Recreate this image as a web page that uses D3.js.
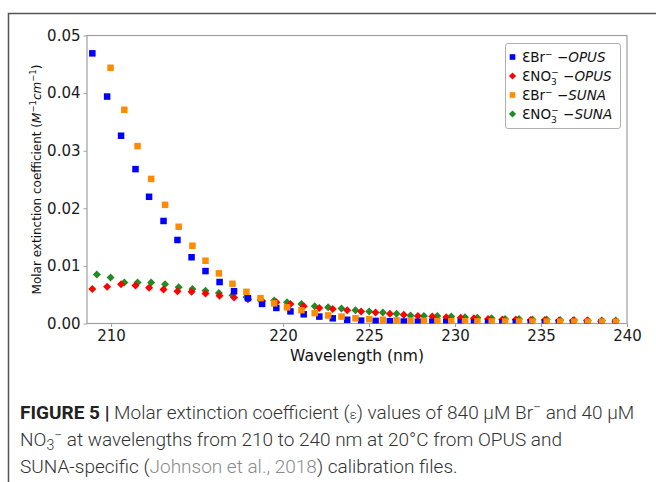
<!DOCTYPE html>
<html><head><meta charset="utf-8">
<script src="https://cdn.jsdelivr.net/npm/d3@7"></script>
<style>body{margin:0;background:#fff}svg{display:block}</style>
</head><body><svg id="c" width="656" height="482"></svg>
<script>
// ---- data ----
const opusWavelength = [208.91,209.77,210.58,211.42,212.21,213.05,213.86,214.68,215.49,216.31,
  217.15,217.96,218.78,219.61,220.43,221.20,222.11,222.89,223.73,224.54,
  225.38,226.21,227.02,227.84,228.68,229.49,230.33,231.10,231.92,232.75,
  233.53,234.40,235.22,236.04,236.86,237.68,238.50,239.32];
const sunaWavelength = [209.17,209.97,210.77,211.54,212.33,213.14,213.93,214.73,215.49,216.27,
  217.06,217.87,218.69,219.48,220.23,221.07,221.84,222.62,223.40,224.21,
  225.01,225.80,226.60,227.41,228.19,228.97,229.78,230.58,231.30,232.13,
  232.91,233.72,234.50,235.33,236.11,236.92,237.72,238.54,239.35];
const brOpus = [0.0469,0.0394,0.0326,0.0268,0.0220,0.0178,0.0145,0.0115,0.0091,0.0072,
  0.0056,0.0044,0.0034,0.0027,0.0021,0.0016,0.0012,0.0009,0.00065,0.0005,
  0.00045,0.0004,0.00035,0.0003,0.0003,0.00025,0.00025,0.00022,0.0002,0.0002,
  0.0002,0.00019,0.00019,0.00018,0.00018,0.00018,0.00017,0.00017];
const no3Opus = [0.0060,0.0064,0.0068,0.0066,0.0062,0.0059,0.0056,0.0055,0.0052,0.0048,
  0.0045,0.0042,0.0039,0.0037,0.0034,0.0030,0.0027,0.0025,0.0023,0.0021,
  0.0019,0.0017,0.0015,0.0013,0.0012,0.0011,0.0010,0.0009,0.0008,0.0007,
  0.0007,0.0006,0.0006,0.0005,0.0005,0.0005,0.0004,0.0004];
const brSuna = [null,0.0444,0.0371,0.0308,0.0251,0.0206,0.0168,0.0135,0.0109,0.0087,
  0.0069,0.0055,0.0044,0.0035,0.0028,0.0023,0.0018,0.0014,0.0012,0.0009,
  0.00075,0.00065,0.00055,0.0005,0.00045,0.0004,0.0004,0.00038,0.00036,0.00035,
  0.00035,0.00034,0.00034,0.00033,0.00033,0.00032,0.00032,0.00032,0.00031];
const no3Suna = [0.0085,0.0080,0.0071,0.0071,0.0071,0.0068,0.0063,0.0060,0.0057,0.0053,
  0.0049,0.0046,0.0041,0.0040,0.0037,0.0034,0.0030,0.0028,0.0026,0.0023,
  0.0021,0.0019,0.0017,0.0014,0.0013,0.0013,0.0012,0.0011,0.0010,0.0009,
  0.0008,0.0008,0.0007,0.0007,0.0006,0.0006,0.0005,0.0005,0.0005];
const xTicks = [210,220,225,230,235,240];
const yTicks = [0,0.01,0.02,0.03,0.04,0.05];
const seriesNames = ["εBr− −OPUS","εNO3− −OPUS","εBr− −SUNA","εNO3− −SUNA"];

// ---- layout ----
const svg = d3.select("#c");
svg.append("rect").attr("width",656).attr("height",482).attr("fill","#fff");
svg.append("path").attr("d","M8.5,482V13.5H656").attr("fill","none").attr("stroke","#555").attr("stroke-width",1.5);

const L=87, R=627, T=35.5, B=323.5;
const x = d3.scaleLinear().domain([208.6,240]).range([L,R]);
const y = d3.scaleLinear().domain([0,0.05]).range([B,T]);
const font = "'DejaVu Sans', sans-serif";

svg.append("defs").append("clipPath").attr("id","clip")
  .append("rect").attr("x",L).attr("y",T).attr("width",R-L).attr("height",B-T);

const axisCol = "#a0a0a0";
const gx = svg.append("g").attr("transform",`translate(0,${B})`)
  .call(d3.axisBottom(x).tickValues(xTicks).tickFormat(d3.format("d")).tickSizeOuter(0).tickSize(3.5).tickPadding(3));
const gy = svg.append("g").attr("transform",`translate(${L},0)`)
  .call(d3.axisLeft(y).tickValues(yTicks).tickFormat(d3.format(".2f")).tickSizeOuter(0).tickSize(3.5).tickPadding(3));
[gx,gy].forEach(g=>{
  g.select(".domain").remove();
  g.selectAll("line").attr("stroke",axisCol);
  g.selectAll("text").attr("font-family",font).attr("font-size",15).attr("fill","#1a1a1a");
});
svg.append("rect").attr("x",L).attr("y",T).attr("width",R-L).attr("height",B-T)
  .attr("fill","none").attr("stroke",axisCol).attr("stroke-width",1.2);

const plot = svg.append("g").attr("clip-path","url(#clip)");
function squares(xs, ys, color, s){
  plot.append("g").selectAll("rect").data(xs.map((w,i)=>[w,ys[i]]).filter(d=>d[1]!=null)).join("rect")
    .attr("x",d=>x(d[0])-s/2).attr("y",d=>y(d[1])-s/2).attr("width",s).attr("height",s).attr("fill",color);
}
function diamonds(xs, ys, color, r){
  plot.append("g").selectAll("path").data(xs.map((w,i)=>[w,ys[i]]).filter(d=>d[1]!=null)).join("path")
    .attr("d",d=>{const cx=x(d[0]), cy=y(d[1]);return `M${cx},${cy-r}L${cx+r},${cy}L${cx},${cy+r}L${cx-r},${cy}Z`;})
    .attr("fill",color);
}
const colors = ["#0000ff","#ff0000","#ff8c00","#228b22"];
diamonds(sunaWavelength, no3Suna, colors[3], 4);
diamonds(opusWavelength, no3Opus, colors[1], 4);
squares(opusWavelength, brOpus, colors[0], 6.5);
squares(sunaWavelength, brSuna, colors[2], 6.5);

// axis labels
svg.append("text").attr("x",(L+R)/2).attr("y",361).attr("text-anchor","middle")
  .attr("font-family",font).attr("font-size",15.5).attr("fill","#111").text("Wavelength (nm)");
const yl = svg.append("text").attr("transform",`translate(41,${(T+B)/2}) rotate(-90)`).attr("text-anchor","middle")
  .attr("font-family",font).attr("font-size",12).attr("fill","#111");
yl.append("tspan").text("Molar extinction coefficient  (");
yl.append("tspan").attr("font-style","italic").text("M");
yl.append("tspan").attr("font-size",8.5).attr("dy",-5).text("−1");
yl.append("tspan").attr("font-style","italic").attr("dy",5).text("cm");
yl.append("tspan").attr("font-size",8.5).attr("dy",-5).text("−1");
yl.append("tspan").attr("dy",5).text(")");

// legend
const lg = svg.append("g");
lg.append("rect").attr("x",505.5).attr("y",43.5).attr("width",115).attr("height",85).attr("rx",2.5)
  .attr("fill","#fff").attr("stroke","#b0b0b0");
const rowsY = [57,76,95,114];
seriesNames.forEach((name,i)=>{
  const ry = rowsY[i], mx = 512.5;
  if(i%2===0) lg.append("rect").attr("x",mx-2.8).attr("y",ry-2.8).attr("width",5.6).attr("height",5.6).attr("fill",colors[i]);
  else lg.append("path").attr("d",`M${mx},${ry-3.6}L${mx+3.6},${ry}L${mx},${ry+3.6}L${mx-3.6},${ry}Z`).attr("fill",colors[i]);
  const t = lg.append("text").attr("x",522).attr("y",ry+5).attr("font-family",font).attr("font-size",13.5).attr("fill","#111");
  const ion = name.includes("NO3") ? "NO" : "Br";
  const inst = name.endsWith("OPUS") ? "OPUS" : "SUNA";
  t.append("tspan").text("Ɛ"+ion);
  if(ion==="NO"){
    t.append("tspan").attr("font-size",9).attr("dy",3.5).text("3");
    t.append("tspan").attr("font-size",9).attr("dx",-5.5).attr("dy",-10).text("−");
    t.append("tspan").attr("dy",6.5).text(" −");
  } else {
    t.append("tspan").attr("font-size",9).attr("dy",-5.5).text("−");
    t.append("tspan").attr("dy",5.5).text(" −");
  }
  t.append("tspan").attr("font-style","italic").text(inst);
});

// caption
const cf = "Roboto, 'Liberation Sans', sans-serif";
const fs = 19;
const c1 = svg.append("text").attr("x",20).attr("y",419).attr("font-family",cf).attr("font-size",fs).attr("font-weight",300).attr("fill","#333");
c1.append("tspan").attr("font-weight",700).attr("fill","#222").text("FIGURE 5 |");
c1.append("tspan").text(" Molar extinction coefficient (");
c1.append("tspan").attr("font-size",13).text("ε");
c1.append("tspan").text(") values of 840 μM Br");
c1.append("tspan").attr("font-size",14).attr("dy",-7).text("−");
c1.append("tspan").attr("dy",7).text(" and 40 μM");
const c2 = svg.append("text").attr("x",20).attr("y",446).attr("font-family",cf).attr("font-size",fs).attr("font-weight",300).attr("fill","#333");
c2.append("tspan").text("NO");
c2.append("tspan").attr("font-size",14).attr("dy",4).text("3");
c2.append("tspan").attr("font-size",14).attr("dy",-10).text("−");
c2.append("tspan").attr("dy",6).text(" at wavelengths from 210 to 240 nm at 20°C from OPUS and");
const c3 = svg.append("text").attr("x",20).attr("y",473).attr("font-family",cf).attr("font-size",fs).attr("font-weight",300).attr("fill","#333");
c3.append("tspan").text("SUNA-specific (");
c3.append("tspan").attr("fill","#8a8a8a").text("Johnson et al., 2018");
c3.append("tspan").text(") calibration files.");
</script></body></html>
